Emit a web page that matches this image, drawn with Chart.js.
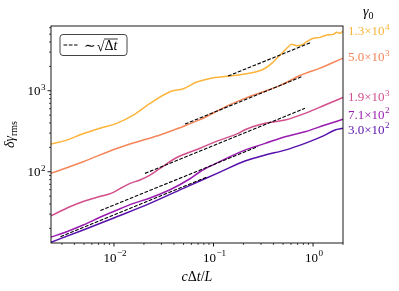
<!DOCTYPE html>
<html>
<head>
<meta charset="utf-8">
<script src="https://cdn.jsdelivr.net/npm/chart.js@4.4.1/dist/chart.umd.min.js"></script>
<style>
  html, body { margin: 0; padding: 0; background: #fff; }
  canvas { display: block; }
</style>
</head>
<body>
<canvas id="chart" width="399" height="291"></canvas>
<script>
/* ------------------ data ------------------ */
const X_MIN = 0.00233, X_MAX = 2.0;
const Y_MIN = 13.2,    Y_MAX = 6300;

const gamma0Base = ['1.3×10', '5.0×10', '1.9×10', '7.1×10', '3.0×10'];
const gamma0Exp  = ['4', '3', '3', '2', '2'];
const lineColors = ['#fdb43a', '#f4865a', '#d24f8c', '#9a1bb0', '#5810ad'];

// gamma0 = 1.3e4
const dt13e4  = [0.00233, 0.00335, 0.00473, 0.00723, 0.01064, 0.01563, 0.0230, 0.0366, 0.0497, 0.0678, 0.092, 0.1465, 0.207, 0.314, 0.385, 0.435, 0.524, 0.565, 0.611, 0.686, 0.770, 0.864, 1.007, 1.175, 1.373, 1.60, 1.73, 1.87, 2.0];
const rms13e4 = [220, 246, 290, 344, 396, 501, 698, 972, 1060, 1280, 1420, 1518, 1610, 1828, 2178, 2535, 3177, 3491, 3738, 3594, 3667, 4029, 4437, 4562, 4873, 4968, 5261, 5113, 5455];
// gamma0 = 5.0e3
const dt50e3  = [0.00233, 0.00491, 0.01064, 0.01969, 0.029, 0.0459, 0.0731, 0.141, 0.207, 0.30, 0.48, 0.74, 1.175, 2.0];
const rms50e3 = [95.5, 133, 194, 246, 284, 350, 440, 660, 806, 950, 1180, 1540, 1905, 2530];
// gamma0 = 1.9e3
const dt19e3  = [0.00233, 0.00361, 0.00491, 0.00723, 0.00948, 0.01149, 0.0145, 0.01825, 0.0230, 0.029, 0.0427, 0.0731, 0.1035, 0.1774, 0.207, 0.330, 0.524, 0.831, 1.32, 2.0];
const rms19e3 = [28.6, 37.0, 43.0, 49.5, 54.5, 62, 71.9, 79.1, 91, 110, 150, 195, 234, 298, 330, 396, 435, 526, 666, 828];
// gamma0 = 7.1e2
const dt71e2  = [0.00233, 0.00335, 0.00491, 0.00723, 0.0106, 0.0160, 0.0230, 0.0366, 0.058, 0.0731, 0.1035, 0.1774, 0.207, 0.330, 0.524, 0.831, 1.32, 2.0];
const rms71e2 = [15.6, 18.2, 22.0, 27.4, 33.5, 41, 47.5, 60, 82, 100, 125, 171, 185, 224, 271, 312, 377, 444];
// gamma0 = 3.0e2
const dt30e2  = [0.00233, 0.00491, 0.01064, 0.023, 0.0497, 0.1161, 0.207, 0.330, 0.524, 0.831, 1.22, 1.66, 2.0];
const rms30e2 = [13.5, 19.1, 27.8, 40.7, 62.4, 99, 136, 161, 185, 224, 271, 327, 344];

// ~sqrt(dt) guide segments, start and end of each
const guideDt  = [[0.14, 0.93], [0.0517, 0.79], [0.0205, 0.83], [0.0073, 0.28], [0.0029, 0.085]];
const guideRms = [[1518, 3900], [388, 1510], [95.5, 607], [33.2, 205], [15.8, 85.5]];

/* ------------------ datasets ------------------ */
const pairs = (xs, ys) => xs.map((x, i) => ({x, y: ys[i]}));
const curves = [[dt13e4, rms13e4], [dt50e3, rms50e3], [dt19e3, rms19e3], [dt71e2, rms71e2], [dt30e2, rms30e2]];

const datasets = curves.map(([xs, ys], i) => ({
  label: gamma0Base[i] + gamma0Exp[i],
  data: pairs(xs, ys),
  borderColor: lineColors[i],
  borderWidth: 1.5,
  pointRadius: 0,
  cubicInterpolationMode: 'monotone',
  order: 1
}));
guideDt.forEach((xs, i) => datasets.push({
  label: 'guide',
  data: pairs(xs, guideRms[i]),
  borderColor: '#000',
  borderWidth: 1.1,
  borderDash: [3.7, 1.6],
  pointRadius: 0,
  order: 0
}));

/* ------------------ text helpers ------------------ */
const SERIF = '"Liberation Serif", "DejaVu Serif", serif';

// "10" with a raised exponent, like mathtext
function drawPow(ctx, base, exp, x, y, size, color, align) {
  ctx.font = `${size}px ${SERIF}`;
  const bw = ctx.measureText(base).width;
  ctx.font = `${size * 0.7}px ${SERIF}`;
  const ew = ctx.measureText(exp).width;
  const w = bw + ew + 0.5;
  const x0 = align === 'right' ? x - w : align === 'center' ? x - w / 2 : x;
  ctx.fillStyle = color;
  ctx.textAlign = 'left';
  ctx.textBaseline = 'alphabetic';
  ctx.font = `${size}px ${SERIF}`;
  ctx.fillText(base, x0, y);
  ctx.font = `${size * 0.7}px ${SERIF}`;
  ctx.fillText(exp, x0 + bw + 0.5, y - size * 0.42);
}

// pieces: [text, font, dy]
function drawRun(ctx, pieces, x, y) {
  let cx = x;
  pieces.forEach(([t, f, dy]) => {
    ctx.font = f;
    ctx.fillText(t, cx, y + (dy || 0));
    cx += ctx.measureText(t).width;
  });
  return cx;
}
function runWidth(ctx, pieces) {
  return pieces.reduce((s, [t, f]) => { ctx.font = f; return s + ctx.measureText(t).width; }, 0);
}

function decadeTicks(scale) {
  const out = [];
  const e0 = Math.floor(Math.log10(scale.min)), e1 = Math.ceil(Math.log10(scale.max));
  for (let e = e0; e <= e1; e++) {
    for (let k = 1; k < 10; k++) {
      const v = k * Math.pow(10, e);
      if (v >= scale.min * 0.9999 && v <= scale.max * 1.0001) out.push({v, major: k === 1, e});
    }
  }
  return out;
}
const expText = e => (e < 0 ? '\u2212' : '') + Math.abs(e);

// right hand label nudges so they do not collide (pixels)
const labelNudge = [0, -1.3, -0.5, -5, 1];

/* ------------------ plugin: frame, ticks, texts, legend ------------------ */
const decorations = {
  id: 'decorations',
  afterDraw(chart) {
    const {ctx, chartArea: a, scales: {x, y}} = chart;
    ctx.save();

    // frame
    ctx.strokeStyle = '#000';
    ctx.lineWidth = 0.9;
    ctx.strokeRect(a.left, a.top, a.right - a.left, a.bottom - a.top);

    // x ticks + labels
    decadeTicks(x).forEach(t => {
      const px = x.getPixelForValue(t.v);
      ctx.lineWidth = t.major ? 0.9 : 0.7;
      ctx.beginPath();
      ctx.moveTo(px, a.bottom);
      ctx.lineTo(px, a.bottom + (t.major ? 3.5 : 2));
      ctx.stroke();
      if (t.major) drawPow(ctx, '10', expText(t.e), px + 1, a.bottom + 18.7, 13, '#000', 'center');
    });
    // y ticks + labels
    decadeTicks(y).forEach(t => {
      const py = y.getPixelForValue(t.v);
      ctx.lineWidth = t.major ? 0.9 : 0.7;
      ctx.beginPath();
      ctx.moveTo(a.left, py);
      ctx.lineTo(a.left - (t.major ? 3.5 : 2), py);
      ctx.stroke();
      if (t.major) drawPow(ctx, '10', expText(t.e), a.left - 5.5, py + 4.4, 13, '#000', 'right');
    });

    // gamma0 labels at right
    curves.forEach(([xs, ys], i) => {
      const py = y.getPixelForValue(ys[ys.length - 1]) + labelNudge[i];
      drawPow(ctx, gamma0Base[i], gamma0Exp[i], a.right + 5, py + 4.4, 13, lineColors[i], 'left');
    });
    ctx.fillStyle = '#000';
    drawRun(ctx, [['γ', `italic 14px ${SERIF}`], ['0', `10px ${SERIF}`, 2.5]], a.right + 20, 16);

    // x axis title  cΔt/L
    const it = `italic 14px ${SERIF}`, up = `14px ${SERIF}`;
    const xt = [['c', it], ['Δ', up], ['t', it], ['/', up], ['L', it]];
    const xw = runWidth(ctx, xt);
    drawRun(ctx, xt, (a.left + a.right) / 2 - xw / 2, a.bottom + 38);

    // y axis title  δγ_rms
    const yt = [['δγ', it], ['rms', `10px ${SERIF}`, 3]];
    const yw = runWidth(ctx, yt);
    ctx.save();
    ctx.translate(13.5, (a.top + a.bottom) / 2);
    ctx.rotate(-Math.PI / 2);
    drawRun(ctx, yt, -yw / 2, 0);
    ctx.restore();

    // legend box
    const lx = a.left + 9, ly = a.top + 8.5, lw = 67, lh = 21;
    ctx.fillStyle = 'rgba(255,255,255,0.8)';
    ctx.strokeStyle = '#444';
    ctx.lineWidth = 1;
    ctx.beginPath();
    ctx.roundRect(lx, ly, lw, lh, 3);
    ctx.fill();
    ctx.stroke();
    const guide = datasets[5];
    ctx.strokeStyle = guide.borderColor;
    ctx.lineWidth = guide.borderWidth;
    ctx.setLineDash(guide.borderDash);
    ctx.beginPath();
    ctx.moveTo(lx + 3.5, ly + 10.5);
    ctx.lineTo(lx + 17.5, ly + 10.5);
    ctx.stroke();
    ctx.setLineDash([]);
    ctx.fillStyle = '#000';
    const tx = lx + 24, tb = ly + 15.5;
    let cx = drawRun(ctx, [['∼', up]], tx, tb);
    cx += 1;
    cx = drawRun(ctx, [['√', up]], cx, tb + 1);
    const ox = cx;
    cx = drawRun(ctx, [['Δ', up], ['t', it]], cx, tb);
    ctx.lineWidth = 0.8;
    ctx.beginPath();
    ctx.moveTo(ox - 0.5, ly + 4.5);
    ctx.lineTo(cx + 0.5, ly + 4.5);
    ctx.stroke();

    ctx.restore();
  }
};

/* ------------------ chart ------------------ */
new Chart(document.getElementById('chart'), {
  type: 'line',
  data: {datasets},
  options: {
    responsive: false,
    animation: false,
    devicePixelRatio: 1,
    layout: {padding: {top: 26, right: 56, left: 0, bottom: 0}},
    plugins: {legend: {display: false}, tooltip: {enabled: false}},
    scales: {
      x: {
        type: 'logarithmic', min: X_MIN, max: X_MAX,
        grid: {display: false}, border: {display: false}, ticks: {display: false},
        afterFit: s => { s.height = 48; }
      },
      y: {
        type: 'logarithmic', min: Y_MIN, max: Y_MAX,
        grid: {display: false}, border: {display: false}, ticks: {display: false},
        afterFit: s => { s.width = 51; }
      }
    }
  },
  plugins: [decorations]
});
</script>
</body>
</html>
